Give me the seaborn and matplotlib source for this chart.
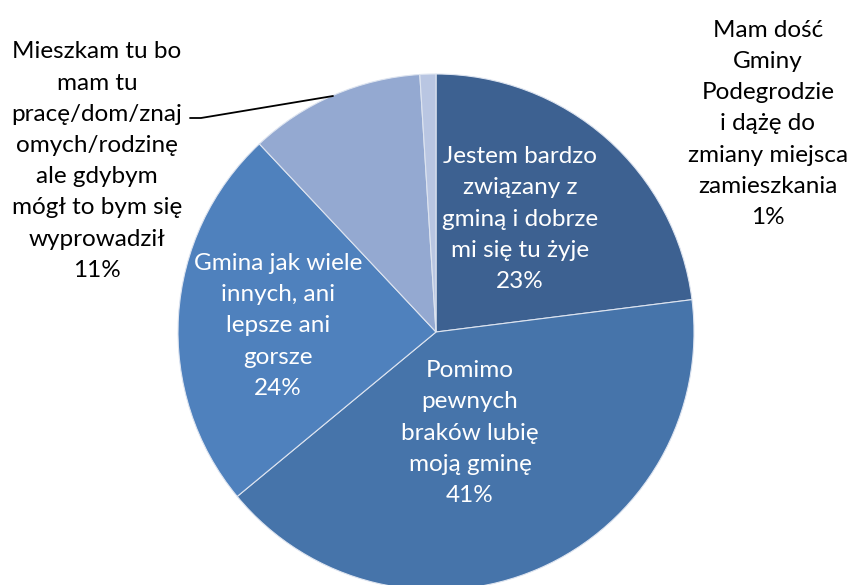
import matplotlib
matplotlib.use("Agg")
import matplotlib.pyplot as plt
import seaborn as sns

# slices, clockwise from 12 o'clock
labels = [
    "Jestem bardzo\nzwiązany z\ngminą i dobrze\nmi się tu żyje",
    "Pomimo\npewnych\nbraków lubię\nmoją gminę",
    "Gmina jak wiele\ninnych, ani\nlepsze ani\ngorsze",
    "Mieszkam tu bo\nmam tu\npracę/dom/znaj\nomych/rodzinę\nale gdybym\nmógł to bym się\nwyprowadził",
    "Mam dość\nGminy\nPodegrodzie\ni dążę do\nzmiany miejsca\nzamieszkania",
]
shares = [23, 41, 24, 11, 1]
colors = ["#3D6191", "#4674AA", "#4F81BD", "#94A9D1", "#B9C6E2"]

sns.set_theme(style="white")
plt.rcParams["font.family"] = ["Lato", "DejaVu Sans"]

W, H = 848, 585
fig = plt.figure(figsize=(W / 100, H / 100), dpi=100)
ax = fig.add_axes([0, 0, 1, 1])


def py(y):
    # pixel row -> data y (origin bottom)
    return H - y


cx, cy, r = 436, 332, 258
wedges, _ = ax.pie(
    shares, colors=colors, startangle=90, counterclock=False,
    center=(cx, py(cy)), radius=r,
    wedgeprops=dict(edgecolor="#DDE4F0", linewidth=0.8),
)
ax.set_xlim(0, W)
ax.set_ylim(0, H)
ax.set_aspect("equal")
ax.axis("off")

# label positions (pixel layout)
pos = [(520, 219, "white"), (470, 433, "white"), (278, 326, "white"),
       (97, 161, "black"), (768, 124, "black")]
for lab, s, (x, y, c) in zip(labels, shares, pos):
    ax.text(x, py(y), f"{lab}\n{s}%", ha="center", va="center", color=c,
            fontsize=17.5, linespacing=1.6)

# leader line for the 11% slice
ax.plot([190, 201, 333], [py(118), py(118), py(96)], color="black", lw=1.3)

fig.savefig("out.png", dpi=100)
